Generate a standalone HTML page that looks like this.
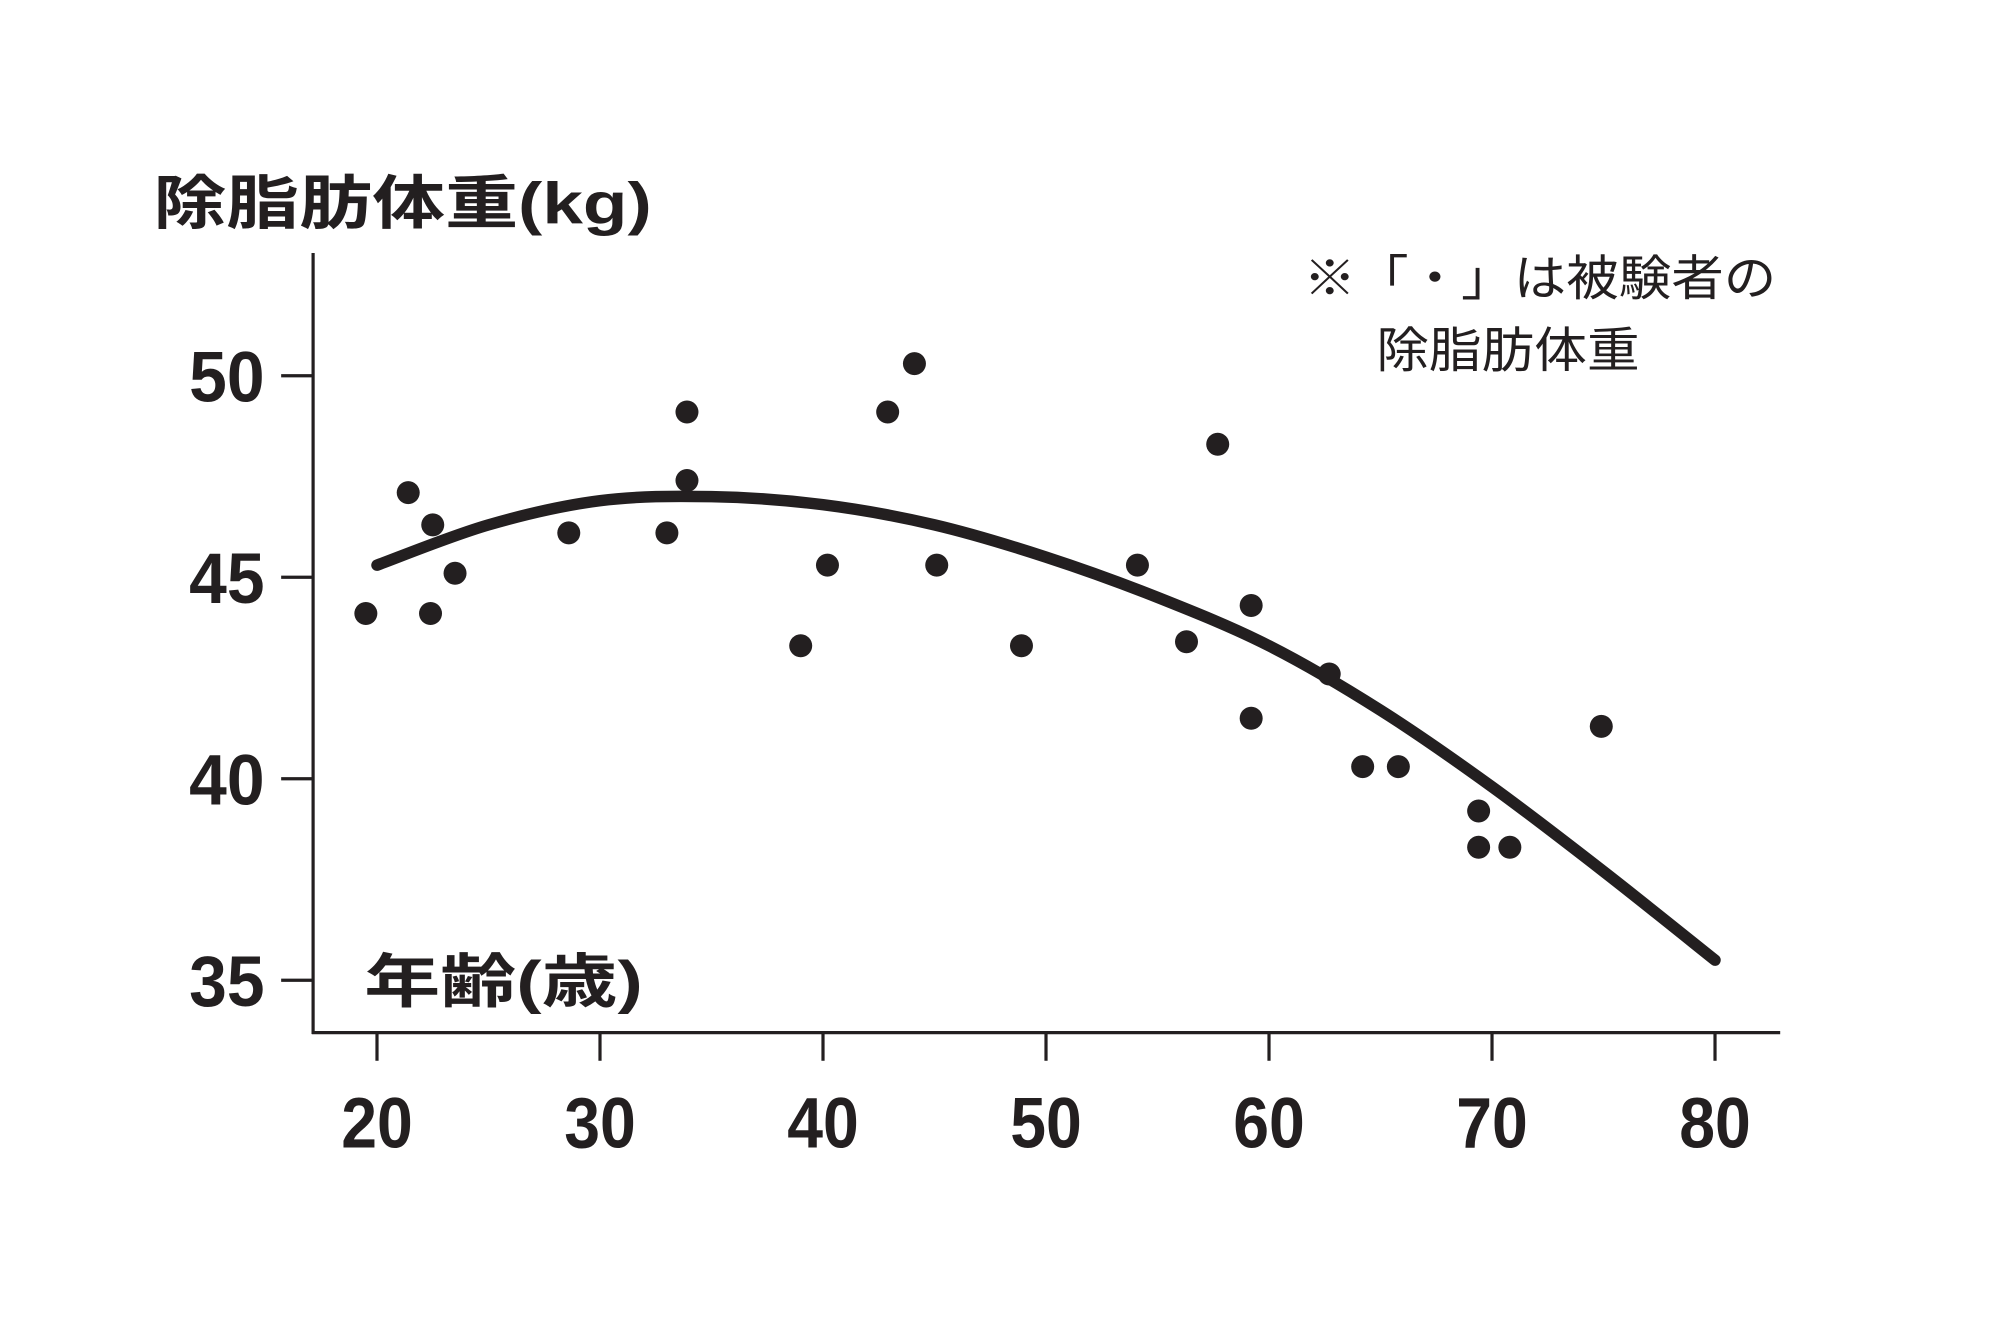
<!DOCTYPE html>
<html><head><meta charset="utf-8">
<style>
html,body{margin:0;padding:0;background:#fff;}
svg{display:block;}
.tick{font-family:"Liberation Sans Narrow","Liberation Sans",sans-serif;font-weight:bold;fill:#231f20;}
.jp{font-family:"Liberation Sans","Noto Sans CJK JP",sans-serif;fill:#231f20;}
</style></head>
<body>
<svg id="chart" width="2000" height="1333" viewBox="0 0 1565 1043" preserveAspectRatio="none" xmlns="http://www.w3.org/2000/svg">
<rect width="1565" height="1043" fill="#fff"/>
<text class="jp" x="120" y="175" font-size="46" font-weight="bold" textLength="390" lengthAdjust="spacingAndGlyphs">除脂肪体重(kg)</text>
<text class="jp" x="285" y="784" font-size="46" font-weight="bold" textLength="218" lengthAdjust="spacingAndGlyphs">年齢(歳)</text>
<text class="jp" x="1020" y="231" font-size="38" textLength="370" lengthAdjust="spacingAndGlyphs">※「・」は被験者の</text>
<text class="jp" x="1077" y="287" font-size="38" textLength="206" lengthAdjust="spacingAndGlyphs">除脂肪体重</text>
<line x1="245" y1="198" x2="245" y2="809" stroke="#231f20" stroke-width="2.5"/>
<line x1="244" y1="808" x2="1393" y2="808" stroke="#231f20" stroke-width="2.5"/>
<g id="ticks"></g>
<path id="fit" fill="none" stroke="#231f20" stroke-width="9" stroke-linecap="round"/>
<g id="dots"></g>
</svg>
<script>
const xTicks = [20,30,40,50,60,70,80];
const yTicks = [35,40,45,50];
const ages = [19.5,21.4,22.5,22.4,23.5,28.6,33.0,33.9,33.9,39.0,40.2,42.9,44.1,45.1,48.9,54.1,56.3,57.7,59.2,59.2,62.7,64.2,65.8,69.4,69.4,70.8,74.9];
const masses = [44.1,47.1,46.3,44.1,45.1,46.1,46.1,49.1,47.4,43.3,45.3,49.1,50.3,45.3,43.3,45.3,43.4,48.3,44.3,41.5,42.6,40.3,40.3,39.2,38.3,38.3,41.3];
const curveAges = [20,25,30,35,40,45,50,55,60,65,70,75,80];
const curveMasses = [45.3,46.3,46.9,47.0,46.8,46.3,45.5,44.5,43.3,41.7,39.8,37.7,35.5];

const NS = "http://www.w3.org/2000/svg";
function sx(a){ return 295 + (a-20)*(1342-295)/60; }
function sy(v){ return 294 + (50-v)*(767-294)/15; }

const tg = document.getElementById('ticks');
xTicks.forEach(t=>{
  const l=document.createElementNS(NS,'line');
  
  
  l.setAttribute('x1',sx(t));l.setAttribute('x2',sx(t));l.setAttribute('y1',808);l.setAttribute('y2',830);
  l.setAttribute('stroke','#231f20');l.setAttribute('stroke-width','2.5');
  tg.appendChild(l);
  const tx=document.createElementNS(NS,'text');
  
  
  tx.setAttribute('class','tick');
  tx.setAttribute('x',sx(t)-28);tx.setAttribute('y',898);tx.setAttribute('font-size','56');
  tx.setAttribute('textLength','56');tx.setAttribute('lengthAdjust','spacingAndGlyphs');
  tx.textContent=t;
  tg.appendChild(tx);
});
yTicks.forEach(t=>{
  const l=document.createElementNS(NS,'line');
  
  
  l.setAttribute('x1',220);l.setAttribute('x2',245);l.setAttribute('y1',sy(t));l.setAttribute('y2',sy(t));
  l.setAttribute('stroke','#231f20');l.setAttribute('stroke-width','2.5');
  tg.appendChild(l);
  const tx=document.createElementNS(NS,'text');
  
  
  tx.setAttribute('class','tick');
  tx.setAttribute('x',148);tx.setAttribute('y',sy(t)+20);tx.setAttribute('font-size','56');
  tx.setAttribute('textLength','59');tx.setAttribute('lengthAdjust','spacingAndGlyphs');
  tx.textContent=t;
  tg.appendChild(tx);
});

const pts = curveAges.map((a,i)=>[sx(a),sy(curveMasses[i])]);
let d = 'M'+pts[0][0]+','+pts[0][1];
for(let i=0;i<pts.length-1;i++){
  const p0=pts[Math.max(0,i-1)],p1=pts[i],p2=pts[i+1],p3=pts[Math.min(pts.length-1,i+2)];
  const c1x=p1[0]+(p2[0]-p0[0])/6,c1y=p1[1]+(p2[1]-p0[1])/6;
  const c2x=p2[0]-(p3[0]-p1[0])/6,c2y=p2[1]-(p3[1]-p1[1])/6;
  d+=' C'+c1x+','+c1y+' '+c2x+','+c2y+' '+p2[0]+','+p2[1];
}
document.getElementById('fit').setAttribute('d',d);

const dg=document.getElementById('dots');
ages.forEach((a,i)=>{
  const c=document.createElementNS(NS,'circle');
  
  
  c.setAttribute('cx',sx(a));c.setAttribute('cy',sy(masses[i]));c.setAttribute('r',9);
  c.setAttribute('fill','#231f20');
  dg.appendChild(c);
});
</script>
</body></html>
